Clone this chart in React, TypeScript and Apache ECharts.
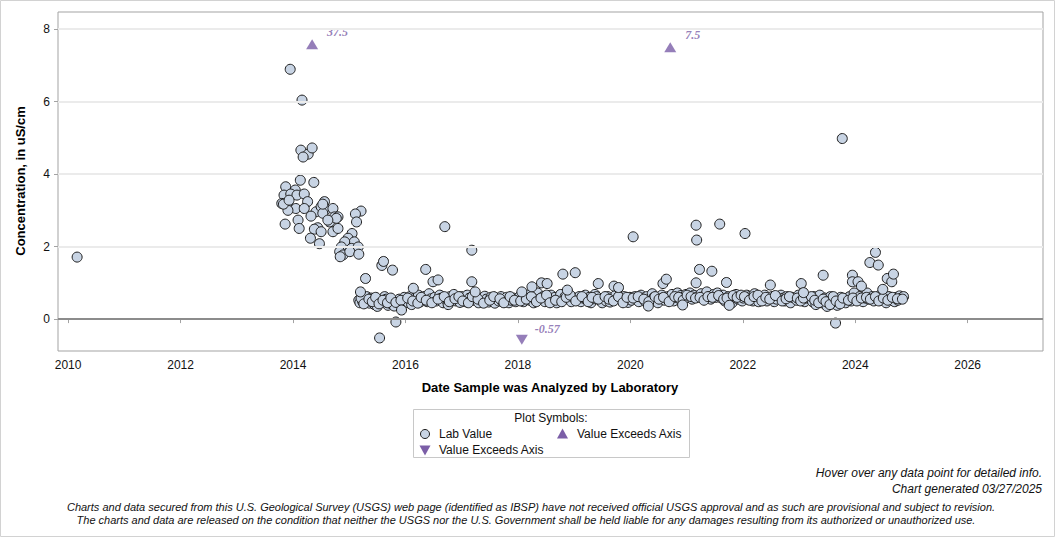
import { useEffect, useRef } from "react";
import * as echarts from "echarts";

// Axis tick values
const yearTicks = [2010, 2012, 2014, 2016, 2018, 2020, 2022, 2024, 2026];
const concentrationTicks = [0, 2, 4, 6, 8];
const gridLineValues = [2, 4, 6, 8];

// Lab values: [decimal year, concentration in uS/cm]
const labEarly: [number, number][] = [
  [2010.16, 1.71],
  [2013.95, 6.89], [2014.16, 6.04], [2014.14, 4.66], [2014.27, 4.55], [2014.18, 4.47], [2014.34, 4.72],
  [2014.13, 3.83], [2014.37, 3.77], [2013.87, 3.65], [2014.04, 3.56], [2013.84, 3.42], [2013.96, 3.45],
  [2014.07, 3.42], [2014.20, 3.45], [2013.80, 3.19], [2013.91, 3.22], [2014.05, 3.05], [2013.91, 3.0],
  [2014.26, 3.24], [2014.41, 2.96], [2014.32, 2.84], [2014.50, 3.10], [2014.56, 3.24], [2014.59, 3.03],
  [2014.71, 3.05], [2014.74, 2.82], [2014.53, 2.92], [2014.65, 2.68], [2014.80, 2.82], [2015.21, 2.98],
  [2015.11, 2.90], [2015.13, 2.68], [2013.86, 2.62], [2014.09, 2.73], [2014.11, 2.50], [2014.44, 2.52],
  [2014.38, 2.48], [2014.50, 2.41], [2014.71, 2.41], [2014.80, 2.50], [2014.31, 2.23], [2014.47, 2.08],
  [2015.05, 2.36], [2014.98, 2.23], [2015.09, 2.13], [2014.92, 2.13], [2014.86, 1.99], [2015.04, 1.95],
  [2015.16, 1.99], [2014.83, 1.86], [2014.89, 1.77], [2015.01, 1.86], [2015.17, 1.79], [2014.84, 1.72],
  [2014.77, 2.78], [2014.62, 2.73], [2014.53, 3.17], [2014.20, 3.05], [2013.83, 3.17], [2013.93, 3.28],
];

const labOutliers: [number, number][] = [
  [2015.20, 0.75], [2015.29, 1.12], [2015.54, -0.52], [2015.58, 1.48], [2015.61, 1.59], [2015.77, 1.35],
  [2015.83, -0.08], [2015.93, 0.25], [2016.14, 0.85], [2016.36, 1.37], [2016.49, 1.03], [2016.58, 1.08],
  [2016.70, 2.55], [2017.18, 1.90], [2017.18, 1.03], [2017.24, 0.75], [2018.07, 0.75], [2018.25, 0.89],
  [2018.42, 1.0], [2018.52, 0.98], [2018.80, 1.24], [2018.88, 0.8], [2019.02, 1.28], [2019.43, 0.98],
  [2019.71, 0.91], [2019.79, 0.87], [2020.05, 2.27], [2020.32, 0.36], [2020.58, 0.98], [2020.64, 1.10],
  [2020.93, 0.39], [2021.17, 2.59], [2021.18, 2.18], [2021.17, 1.0], [2021.23, 1.37], [2021.45, 1.32],
  [2021.59, 2.62], [2021.71, 1.01], [2021.76, 0.38], [2022.04, 2.36], [2022.49, 0.94], [2023.04, 0.98],
  [2023.08, 0.73], [2023.43, 1.21], [2023.65, -0.11], [2023.77, 4.98], [2023.95, 1.21], [2023.95, 1.03],
  [2024.05, 1.03], [2024.11, 0.91], [2024.26, 1.56], [2024.36, 1.84], [2024.41, 1.49], [2024.49, 0.82],
  [2024.57, 1.12], [2024.65, 1.03], [2024.68, 1.24],
];

const labBand2015to2018: [number, number][] = [
  [2015.17, 0.52], [2015.19, 0.45], [2015.22, 0.60], [2015.24, 0.48], [2015.27, 0.56], [2015.31, 0.62],
  [2015.33, 0.50], [2015.36, 0.44], [2015.39, 0.58], [2015.42, 0.55], [2015.45, 0.40], [2015.48, 0.52],
  [2015.50, 0.35], [2015.56, 0.47], [2015.63, 0.62], [2015.66, 0.55], [2015.69, 0.38], [2015.72, 0.50],
  [2015.75, 0.42], [2015.80, 0.36], [2015.86, 0.48], [2015.89, 0.55], [2015.95, 0.44], [2015.98, 0.60],
  [2016.02, 0.52], [2016.05, 0.45], [2016.08, 0.62], [2016.11, 0.40], [2016.17, 0.58], [2016.20, 0.50],
  [2016.23, 0.66], [2016.26, 0.47], [2016.30, 0.55], [2016.33, 0.62], [2016.39, 0.48], [2016.42, 0.70],
  [2016.45, 0.56], [2016.52, 0.60], [2016.55, 0.50], [2016.61, 0.66], [2016.64, 0.58], [2016.67, 0.45],
  [2016.73, 0.52], [2016.76, 0.40], [2016.79, 0.62], [2016.83, 0.55], [2016.86, 0.68], [2016.90, 0.50],
  [2016.93, 0.58], [2016.97, 0.46],
  [2017.00, 0.62], [2017.04, 0.55], [2017.07, 0.48], [2017.10, 0.66], [2017.14, 0.58], [2017.21, 0.52],
  [2017.27, 0.62], [2017.30, 0.45], [2017.34, 0.56], [2017.37, 0.50], [2017.41, 0.63], [2017.44, 0.55],
  [2017.48, 0.47], [2017.52, 0.60], [2017.55, 0.52], [2017.59, 0.44], [2017.62, 0.58], [2017.66, 0.50],
  [2017.70, 0.62], [2017.73, 0.47], [2017.77, 0.55], [2017.80, 0.60], [2017.84, 0.45], [2017.88, 0.52],
  [2017.92, 0.58], [2017.96, 0.48],
  [2018.00, 0.55], [2018.03, 0.62], [2018.10, 0.48], [2018.13, 0.58], [2018.17, 0.66], [2018.21, 0.52],
  [2018.28, 0.45], [2018.31, 0.60], [2018.35, 0.72], [2018.38, 0.55], [2018.45, 0.62], [2018.48, 0.48],
  [2018.55, 0.58], [2018.59, 0.66], [2018.62, 0.50], [2018.66, 0.60], [2018.69, 0.45], [2018.73, 0.56],
  [2018.76, 0.68], [2018.84, 0.62], [2018.91, 0.55], [2018.95, 0.48], [2018.98, 0.60],
];

const labBand2019to2021: [number, number][] = [
  [2019.05, 0.55], [2019.09, 0.62], [2019.12, 0.48], [2019.16, 0.58], [2019.20, 0.66], [2019.23, 0.52],
  [2019.27, 0.60], [2019.30, 0.45], [2019.34, 0.56], [2019.37, 0.68], [2019.40, 0.62], [2019.46, 0.52],
  [2019.50, 0.45], [2019.53, 0.58], [2019.57, 0.50], [2019.60, 0.62], [2019.64, 0.47], [2019.67, 0.55],
  [2019.74, 0.66], [2019.82, 0.58], [2019.85, 0.50], [2019.89, 0.62], [2019.92, 0.55], [2019.96, 0.46],
  [2019.99, 0.60],
  [2020.02, 0.52], [2020.08, 0.62], [2020.12, 0.55], [2020.15, 0.48], [2020.19, 0.66], [2020.22, 0.58],
  [2020.26, 0.50], [2020.29, 0.62], [2020.35, 0.55], [2020.39, 0.70], [2020.42, 0.60], [2020.46, 0.52],
  [2020.49, 0.45], [2020.53, 0.58], [2020.56, 0.66], [2020.61, 0.52], [2020.67, 0.62], [2020.70, 0.55],
  [2020.74, 0.68], [2020.77, 0.50], [2020.81, 0.60], [2020.84, 0.72], [2020.88, 0.55], [2020.90, 0.65],
  [2020.96, 0.58], [2020.99, 0.68],
  [2021.03, 0.60], [2021.06, 0.72], [2021.10, 0.55], [2021.13, 0.66], [2021.20, 0.62], [2021.26, 0.70],
  [2021.29, 0.58], [2021.33, 0.66], [2021.36, 0.75], [2021.40, 0.62], [2021.43, 0.55], [2021.48, 0.68],
  [2021.52, 0.60], [2021.55, 0.72], [2021.62, 0.58], [2021.65, 0.66], [2021.68, 0.50], [2021.74, 0.62],
  [2021.78, 0.55], [2021.81, 0.45], [2021.85, 0.60], [2021.88, 0.68], [2021.92, 0.55], [2021.95, 0.62],
  [2021.99, 0.50],
];

const labBand2022to2024: [number, number][] = [
  [2022.01, 0.58], [2022.07, 0.66], [2022.10, 0.55], [2022.13, 0.62], [2022.18, 0.50], [2022.21, 0.70],
  [2022.25, 0.58], [2022.28, 0.48], [2022.32, 0.62], [2022.36, 0.55], [2022.39, 0.66], [2022.43, 0.50],
  [2022.46, 0.58], [2022.52, 0.62], [2022.56, 0.48], [2022.60, 0.55], [2022.68, 0.66], [2022.72, 0.58],
  [2022.75, 0.50], [2022.78, 0.62], [2022.81, 0.55], [2022.85, 0.45], [2022.88, 0.60], [2022.96, 0.52],
  [2022.99, 0.66],
  [2023.01, 0.55], [2023.06, 0.62], [2023.10, 0.48], [2023.12, 0.58], [2023.21, 0.55], [2023.24, 0.48],
  [2023.27, 0.62], [2023.30, 0.40], [2023.33, 0.52], [2023.37, 0.66], [2023.40, 0.45], [2023.46, 0.58],
  [2023.50, 0.35], [2023.53, 0.50], [2023.56, 0.62], [2023.59, 0.42], [2023.62, 0.55], [2023.68, 0.38],
  [2023.71, 0.48], [2023.74, 0.60], [2023.80, 0.52], [2023.83, 0.45], [2023.86, 0.58], [2023.90, 0.62],
  [2023.93, 0.50], [2023.98, 0.72],
  [2024.01, 0.55], [2024.08, 0.62], [2024.14, 0.48], [2024.18, 0.58], [2024.21, 0.72], [2024.24, 0.55],
  [2024.30, 0.62], [2024.33, 0.50], [2024.39, 0.58], [2024.44, 0.66], [2024.47, 0.52], [2024.52, 0.60],
  [2024.55, 0.45], [2024.60, 0.62], [2024.63, 0.55], [2024.70, 0.48], [2024.73, 0.60], [2024.76, 0.52],
  [2024.79, 0.64], [2024.82, 0.58], [2024.86, 0.62],
];

// Additional routine samples interleaved within the low band
const labBandSupplemental: [number, number][] = [
  [2015.21, 0.58], [2015.26, 0.42], [2015.35, 0.55], [2015.41, 0.48], [2015.47, 0.60], [2015.53, 0.42],
  [2015.60, 0.52], [2015.68, 0.45], [2015.74, 0.58], [2015.83, 0.46], [2015.92, 0.52],
  [2016.04, 0.58], [2016.13, 0.50], [2016.22, 0.44], [2016.28, 0.60], [2016.37, 0.52], [2016.47, 0.45],
  [2016.58, 0.55], [2016.69, 0.62], [2016.78, 0.48], [2016.88, 0.56], [2016.95, 0.62],
  [2017.02, 0.50], [2017.12, 0.45], [2017.19, 0.62], [2017.29, 0.55], [2017.39, 0.44], [2017.50, 0.52],
  [2017.57, 0.62], [2017.68, 0.56], [2017.75, 0.45], [2017.86, 0.62], [2017.94, 0.52],
  [2018.05, 0.50], [2018.15, 0.55], [2018.24, 0.62], [2018.33, 0.48], [2018.41, 0.58], [2018.51, 0.66],
  [2018.57, 0.45], [2018.67, 0.52], [2018.78, 0.48], [2018.86, 0.60], [2018.93, 0.66],
  [2019.03, 0.50], [2019.14, 0.62], [2019.25, 0.48], [2019.32, 0.60], [2019.43, 0.55], [2019.55, 0.62],
  [2019.62, 0.55], [2019.70, 0.50], [2019.79, 0.62], [2019.87, 0.45], [2019.94, 0.60],
  [2020.05, 0.58], [2020.14, 0.62], [2020.24, 0.55], [2020.33, 0.48], [2020.44, 0.62], [2020.51, 0.55],
  [2020.59, 0.60], [2020.69, 0.48], [2020.79, 0.62], [2020.86, 0.60], [2020.94, 0.52],
  [2021.01, 0.66], [2021.08, 0.62], [2021.16, 0.58], [2021.24, 0.60], [2021.31, 0.52], [2021.38, 0.62],
  [2021.46, 0.60], [2021.57, 0.65], [2021.66, 0.55], [2021.72, 0.58], [2021.83, 0.65], [2021.90, 0.60],
  [2021.97, 0.66],
  [2022.03, 0.62], [2022.12, 0.52], [2022.20, 0.62], [2022.27, 0.66], [2022.34, 0.50], [2022.41, 0.60],
  [2022.48, 0.55], [2022.58, 0.65], [2022.70, 0.50], [2022.77, 0.56], [2022.83, 0.62], [2022.97, 0.58],
  [2023.03, 0.50], [2023.08, 0.58], [2023.22, 0.62], [2023.28, 0.52], [2023.35, 0.45], [2023.43, 0.55],
  [2023.48, 0.48], [2023.55, 0.40], [2023.61, 0.62], [2023.66, 0.50], [2023.73, 0.42], [2023.78, 0.58],
  [2023.88, 0.52], [2023.96, 0.58],
  [2024.03, 0.50], [2024.11, 0.58], [2024.20, 0.60], [2024.27, 0.55], [2024.36, 0.62], [2024.42, 0.50],
  [2024.50, 0.58], [2024.58, 0.52], [2024.66, 0.60], [2024.75, 0.56], [2024.84, 0.55],
];

// Values beyond the plotted range, shown as triangles at the axis cap
const exceedDates = [2014.34, 2020.71, 2018.07];
const exceedValues = [37.5, 7.5, -0.57];

const Y_MIN = -0.88;
const Y_MAX = 8.47;
const HIGH_CAP = 7.58;

const FONT = "'Liberation Sans', Arial, Helvetica, sans-serif";
const PURPLE = "#7b5ea7";
const MARKER_FILL = "#c8d4e4";

export default function App() {
  const ref = useRef<HTMLDivElement>(null);

  useEffect(() => {
    document.body.style.margin = "0";
    const chart = echarts.init(ref.current!, null, { renderer: "svg" });

    const labData = [
      ...labEarly,
      ...labBand2015to2018,
      ...labBand2019to2021,
      ...labBand2022to2024,
      ...labBandSupplemental,
      ...labOutliers,
    ];

    const exceedData = exceedValues.map((v, i) => ({
      value: [exceedDates[i], Math.min(v, HIGH_CAP)],
      symbolRotate: v > 0 ? 0 : 180,
      label: {
        show: true,
        position: "right",
        offset: v > 0 ? [4, -12] : [2, -11],
        formatter: String(v),
      },
    }));

    chart.setOption({
      animation: false,
      textStyle: { fontFamily: FONT },
      grid: {
        left: 58,
        top: 12,
        right: 13,
        bottom: 187,
        show: true,
        borderColor: "#a3a3a3",
        borderWidth: 1,
        backgroundColor: "transparent",
      },
      xAxis: {
        type: "value",
        min: 2009.82,
        max: 2027.34,
        axisLine: { show: false },
        splitLine: { show: false },
        axisTick: {
          show: true,
          length: 4,
          lineStyle: { color: "#a3a3a3" },
          customValues: yearTicks,
        },
        axisLabel: {
          color: "#111",
          fontSize: 12,
          margin: 8,
          customValues: yearTicks,
          formatter: (v: number) => String(Math.round(v)),
        },
      },
      yAxis: {
        type: "value",
        min: Y_MIN,
        max: Y_MAX,
        axisLine: { show: false },
        splitLine: { show: false },
        axisTick: {
          show: true,
          length: 4,
          lineStyle: { color: "#a3a3a3" },
          customValues: concentrationTicks,
        },
        axisLabel: {
          color: "#111",
          fontSize: 12,
          margin: 8,
          customValues: concentrationTicks,
          formatter: (v: number) => String(Math.round(v)),
        },
      },
      series: [
        {
          type: "line",
          data: [],
          z: 1,
          silent: true,
          markLine: {
            silent: true,
            symbol: "none",
            label: { show: false },
            animation: false,
            data: [
              ...gridLineValues.map((v) => ({
                yAxis: v,
                lineStyle: { color: "#ebebeb", width: 2, type: "solid" },
              })),
              { yAxis: 0, lineStyle: { color: "#8c8c8c", width: 2, type: "solid" } },
            ],
          },
        },
        {
          type: "scatter",
          name: "Lab Value",
          data: labData,
          z: 3,
          symbol: "circle",
          symbolSize: 10,
          itemStyle: { color: MARKER_FILL, borderColor: "#1c1c1c", borderWidth: 1, opacity: 1 },
          emphasis: { disabled: true },
        },
        {
          type: "scatter",
          name: "Value Exceeds Axis",
          data: exceedData,
          z: 4,
          symbol: "triangle",
          symbolSize: [12, 10],
          itemStyle: { color: PURPLE },
          label: {
            color: PURPLE,
            fontFamily: "'Liberation Serif', 'DejaVu Serif', serif",
            fontWeight: "bold",
            fontStyle: "italic",
            fontSize: 12,
          },
          emphasis: { disabled: true },
        },
      ],
      graphic: [
        {
          type: "rect",
          shape: { x: 0.5, y: 0.5, width: 1054, height: 536 },
          style: { fill: "none", stroke: "#d2d2d2", lineWidth: 1 },
          silent: true,
        },
        {
          type: "text",
          x: 20,
          y: 181,
          rotation: Math.PI / 2,
          style: {
            text: "Concentration, in uS/cm",
            font: `bold 13px ${FONT}`,
            fill: "#000",
            align: "center",
            verticalAlign: "middle",
          },
        },
        {
          type: "text",
          x: 550,
          y: 387,
          style: {
            text: "Date Sample was Analyzed by Laboratory",
            font: `bold 13px ${FONT}`,
            fill: "#000",
            align: "center",
            verticalAlign: "middle",
          },
        },
        {
          type: "group",
          children: [
            {
              type: "rect",
              shape: { x: 413.5, y: 409.5, width: 276, height: 48 },
              style: { fill: "#fff", stroke: "#c8c8c8", lineWidth: 1 },
            },
            {
              type: "text",
              x: 551,
              y: 418,
              style: {
                text: "Plot Symbols:",
                font: `12px ${FONT}`,
                fill: "#111",
                align: "center",
                verticalAlign: "middle",
              },
            },
            {
              type: "circle",
              shape: { cx: 425, cy: 434, r: 4.5 },
              style: { fill: MARKER_FILL, stroke: "#1c1c1c", lineWidth: 1 },
            },
            {
              type: "text",
              x: 439,
              y: 434,
              style: { text: "Lab Value", font: `12px ${FONT}`, fill: "#111", verticalAlign: "middle" },
            },
            {
              type: "polygon",
              shape: { points: [[557, 438.5], [568, 438.5], [562.5, 428.5]] },
              style: { fill: PURPLE },
            },
            {
              type: "text",
              x: 577,
              y: 434,
              style: { text: "Value Exceeds Axis", font: `12px ${FONT}`, fill: "#111", verticalAlign: "middle" },
            },
            {
              type: "polygon",
              shape: { points: [[419.5, 445.5], [430.5, 445.5], [425, 455.5]] },
              style: { fill: PURPLE },
            },
            {
              type: "text",
              x: 439,
              y: 450,
              style: { text: "Value Exceeds Axis", font: `12px ${FONT}`, fill: "#111", verticalAlign: "middle" },
            },
          ],
        },
        {
          type: "text",
          x: 1042,
          y: 473,
          style: {
            text: "Hover over any data point for detailed info.",
            font: `italic 12px ${FONT}`,
            fill: "#111",
            align: "right",
            verticalAlign: "middle",
          },
        },
        {
          type: "text",
          x: 1042,
          y: 489,
          style: {
            text: "Chart generated 03/27/2025",
            font: `italic 12px ${FONT}`,
            fill: "#111",
            align: "right",
            verticalAlign: "middle",
          },
        },
        {
          type: "text",
          x: 531,
          y: 507,
          style: {
            text:
              "Charts and data secured from this U.S. Geological Survey (USGS) web page (identified as IBSP) have not received official USGS approval and as such are provisional and subject to revision.",
            font: `italic 11px ${FONT}`,
            fill: "#111",
            align: "center",
            verticalAlign: "middle",
          },
        },
        {
          type: "text",
          x: 526,
          y: 520,
          style: {
            text:
              "The charts and data are released on the condition that neither the USGS nor the U.S. Government shall be held liable for any damages resulting from its authorized or unauthorized use.",
            font: `italic 11px ${FONT}`,
            fill: "#111",
            align: "center",
            verticalAlign: "middle",
          },
        },
      ],
    });

    return () => chart.dispose();
  }, []);

  return (
    <div
      ref={ref}
      style={{ position: "fixed", left: 0, top: 0, width: 1056, height: 538, background: "#fff" }}
    />
  );
}
